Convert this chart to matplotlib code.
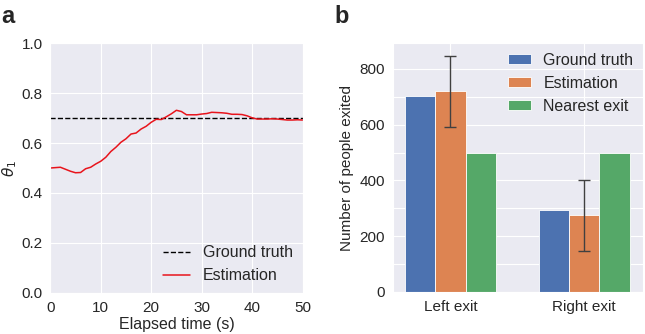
import numpy as np
import matplotlib
matplotlib.use("Agg")
import matplotlib.pyplot as plt
import seaborn as sns
from matplotlib.ticker import MultipleLocator

# panel a: estimated theta_1 over time
time_s = [0, 2, 4, 5, 6, 7, 8, 9, 10, 11, 12, 13, 14, 15, 16, 17, 18, 19, 20,
          21, 22, 23, 24, 25, 26, 27, 28, 29, 30, 31, 32, 33, 34, 35, 36, 37,
          38, 39, 40, 41, 42, 43, 44, 45, 46, 47, 48, 49, 50]
theta_est = [0.500, 0.503, 0.487, 0.481, 0.482, 0.497, 0.503, 0.516, 0.527,
             0.543, 0.566, 0.583, 0.603, 0.617, 0.636, 0.640, 0.656, 0.667,
             0.683, 0.695, 0.694, 0.705, 0.717, 0.731, 0.726, 0.713, 0.713,
             0.713, 0.716, 0.718, 0.723, 0.722, 0.721, 0.719, 0.715, 0.715,
             0.714, 0.709, 0.701, 0.696, 0.696, 0.696, 0.697, 0.696, 0.694,
             0.692, 0.692, 0.693, 0.692]
theta_true = 0.7

# panel b: exits
exits = ["Left exit", "Right exit"]
ground_truth = [702, 293]
estimation = [720, 275]
estimation_err = [128, 128]
nearest_exit = [500, 500]

sns.set_style("darkgrid")
plt.rcParams['font.family'] = ['Liberation Sans', 'DejaVu Sans']
plt.rcParams['font.size'] = 11
deep = sns.color_palette("deep")

fig = plt.figure(figsize=(6.45, 3.34), dpi=100)

ax1 = fig.add_axes([0.078, 0.123, 0.391, 0.748])
ax1.plot([0, 50], [theta_true, theta_true], color='black', ls='--', lw=1,
         label='Ground truth')
ax1.plot(time_s, theta_est, color='#e8141c', lw=1.1, label='Estimation')
ax1.set_xlim(0, 50)
ax1.set_ylim(0, 1)
ax1.set_xticks([0, 10, 20, 30, 40, 50])
ax1.set_yticks([0, 0.2, 0.4, 0.6, 0.8, 1.0])
ax1.set_xlabel('Elapsed time (s)', labelpad=2, fontsize=11.5)
ax1.set_ylabel(r'$\theta_1$', labelpad=2)
ax1.tick_params(labelsize=11, pad=2)
ax1.legend(loc='lower right', frameon=False, fontsize=11.5, handlelength=1.7,
           borderaxespad=0.2)

ax2 = fig.add_axes([0.609, 0.126, 0.388, 0.745])
x = np.arange(len(exits))
w = 0.227
ax2.bar(x - w, ground_truth, w, color=deep[0], edgecolor='white', lw=0.6,
        label='Ground truth')
ax2.bar(x, estimation, w, color=deep[1], edgecolor='white', lw=0.6,
        yerr=estimation_err, error_kw=dict(ecolor='#404040', capsize=4,
                                           elinewidth=1, capthick=1),
        label='Estimation')
ax2.bar(x + w, nearest_exit, w, color=deep[2], edgecolor='white', lw=0.6,
        label='Nearest exit')
ax2.set_xlim(-0.43, 1.44)
ax2.set_ylim(0, 893)
ax2.set_xticks(x)
ax2.set_xticklabels(exits)
ax2.set_yticks([0, 200, 400, 600, 800])
ax2.yaxis.set_minor_locator(MultipleLocator(100))
ax2.grid(which='minor', axis='y', color='white', lw=0.8)
ax2.tick_params(which='minor', length=0)
ax2.tick_params(labelsize=11, pad=2)
ax2.set_ylabel('Number of people exited', labelpad=4)
ax2.legend(loc='upper right', frameon=False, fontsize=11.5, handlelength=1.4,
           handleheight=0.5, borderaxespad=0.2)

fig.text(0.002, 0.985, 'a', fontsize=17, fontweight='bold', va='top')
fig.text(0.519, 0.985, 'b', fontsize=17, fontweight='bold', va='top')

fig.savefig('out.png', dpi=100)
